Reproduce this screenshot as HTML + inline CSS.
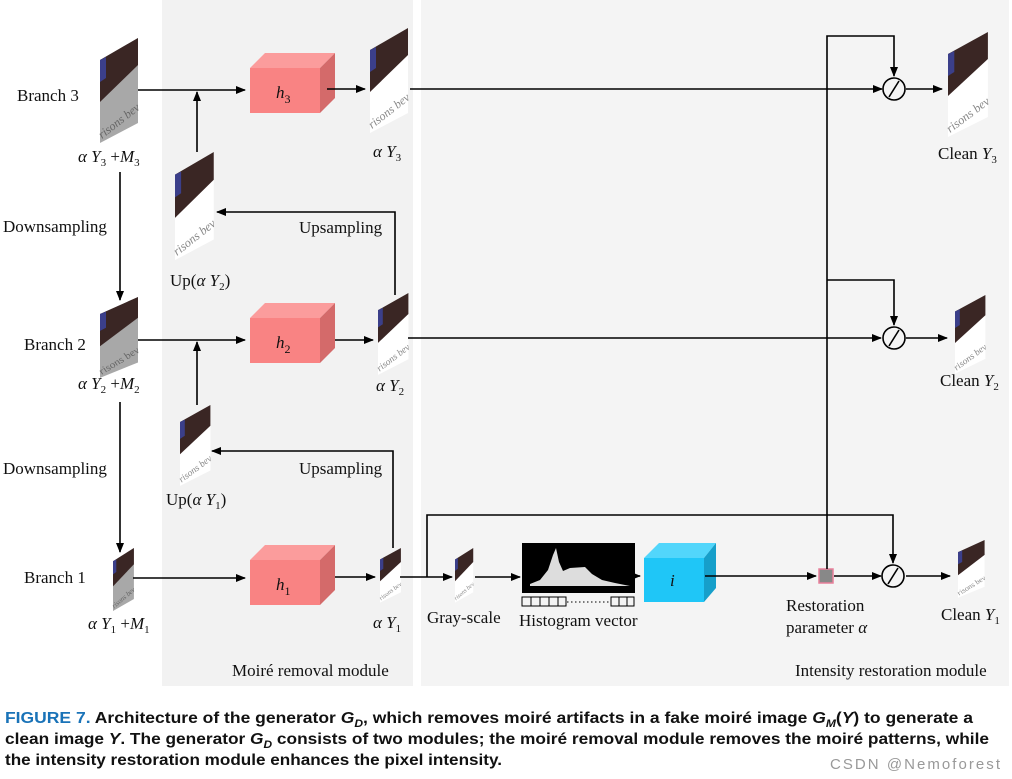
<!DOCTYPE html>
<html><head><meta charset="utf-8"><style>
html,body{margin:0;padding:0;background:#fff;}
svg{display:block}
.t{font-family:"Liberation Serif",serif;font-size:17px;fill:#111}
.c{font-family:"Liberation Sans",sans-serif;font-weight:bold;font-size:16px;fill:#111}
</style></head><body>
<svg width="1012" height="779" viewBox="0 0 1012 779" xmlns="http://www.w3.org/2000/svg">
<defs>
<marker id="a" markerWidth="10" markerHeight="8" refX="9" refY="4" orient="auto" markerUnits="userSpaceOnUse"><path d="M0,0 L10,4 L0,8 z" fill="#000"/></marker>
<g id="img">
<polygon points="0,22 38,0 38,85 0,105" fill="#fff"/>
<polygon points="0,22 38,0 38,27 0,64" fill="#3a2624"/>
<polygon points="0,22 6,19 6,40 0,44" fill="#3b3f8a"/>
<text x="2" y="101" transform="rotate(-38 2 101)" font-family="Liberation Serif" font-style="italic" font-size="12" fill="#888">risons bev</text>
</g>
<g id="imgg">
<polygon points="0,22 38,0 38,85 0,105" fill="#a8a8a8"/>
<polygon points="0,22 38,0 38,27 0,64" fill="#3a2624"/>
<polygon points="0,22 6,19 6,40 0,44" fill="#3b3f8a"/>
<text x="2" y="101" transform="rotate(-38 2 101)" font-family="Liberation Serif" font-style="italic" font-size="12" fill="#666">risons bev</text>
</g>
<g id="box">
<polygon points="0,15 15,0 85,0 70,15" fill="#fb9c9c"/>
<polygon points="70,15 85,0 85,45 70,60" fill="#d46a6a"/>
<rect x="0" y="15" width="70" height="45" fill="#f98383"/>
</g>
</defs>
<rect x="162" y="0" width="251" height="686" fill="#f2f2f2"/>
<rect x="421" y="0" width="588" height="686" fill="#f4f4f4"/>

<use href="#imgg" transform="translate(100,38)"/>
<use href="#img" transform="translate(370,28)"/>
<use href="#img" transform="translate(175,152) scale(1.02,1.03)"/>
<use href="#imgg" transform="translate(100,297) scale(1,0.77)"/>
<use href="#img" transform="translate(378,293) scale(0.8,0.78)"/>
<use href="#img" transform="translate(180,405) scale(0.8,0.77)"/>
<use href="#imgg" transform="translate(113,548) scale(0.55,0.6)"/>
<use href="#img" transform="translate(380,548) scale(0.55,0.52)"/>
<use href="#img" transform="translate(455,548) scale(0.48,0.52)"/>
<use href="#img" transform="translate(948,32) scale(1.05,1.0)"/>
<use href="#img" transform="translate(955,295) scale(0.8,0.75)"/>
<use href="#img" transform="translate(958,540) scale(0.7,0.55)"/>

<use href="#box" transform="translate(250,53)"/>
<use href="#box" transform="translate(250,303)"/>
<use href="#box" transform="translate(250,545)"/>
<g transform="translate(644,543)">
<polygon points="0,15 15,0 72,0 60,15" fill="#52d6fb"/>
<polygon points="60,15 72,0 72,45 60,59" fill="#169fca"/>
<rect x="0" y="15" width="60" height="44" fill="#1fc6f7"/>
</g>
<text class="t" x="276" y="98" font-style="italic" font-size="20">h<tspan font-size="12" dy="5" font-style="normal">3</tspan></text>
<text class="t" x="276" y="348" font-style="italic" font-size="20">h<tspan font-size="12" dy="5" font-style="normal">2</tspan></text>
<text class="t" x="276" y="590" font-style="italic" font-size="20">h<tspan font-size="12" dy="5" font-style="normal">1</tspan></text>
<text class="t" x="670" y="586" font-style="italic" font-size="20">i</text>

<rect x="522" y="543" width="113" height="50" fill="#000"/>
<polygon points="530,584 540,580 548,570 553,555 556,548 559,562 563,571 570,568 585,567 592,574 602,580 615,583 625,585 630,586 530,586" fill="#ddd"/>
<g fill="none" stroke="#000" stroke-width="1">
<rect x="522" y="597" width="44" height="9"/><line x1="531" y1="597" x2="531" y2="606"/><line x1="540" y1="597" x2="540" y2="606"/><line x1="549" y1="597" x2="549" y2="606"/><line x1="558" y1="597" x2="558" y2="606"/>
<rect x="611" y="597" width="23" height="9"/><line x1="619" y1="597" x2="619" y2="606"/><line x1="627" y1="597" x2="627" y2="606"/>
<line x1="567" y1="602" x2="610" y2="602" stroke-dasharray="1.5 2.5"/>
</g>
<rect x="819" y="569" width="14" height="14" fill="#888" stroke="#e87f9a" stroke-width="1.5"/>

<g stroke="#000" stroke-width="1.6" fill="none">
<line x1="138" y1="90" x2="245" y2="90" marker-end="url(#a)"/>
<line x1="197" y1="152" x2="197" y2="92" marker-end="url(#a)"/>
<line x1="327" y1="89" x2="365" y2="89" marker-end="url(#a)"/>
<line x1="410" y1="89" x2="882" y2="89" marker-end="url(#a)"/>
<line x1="906" y1="89" x2="942" y2="89" marker-end="url(#a)"/>
<line x1="120" y1="172" x2="120" y2="300" marker-end="url(#a)"/>
<polyline points="395,295 395,212 217,212" marker-end="url(#a)"/>
<line x1="138" y1="340" x2="245" y2="340" marker-end="url(#a)"/>
<line x1="197" y1="405" x2="197" y2="342" marker-end="url(#a)"/>
<line x1="335" y1="340" x2="373" y2="340" marker-end="url(#a)"/>
<line x1="408" y1="338" x2="881" y2="338" marker-end="url(#a)"/>
<line x1="906" y1="338" x2="947" y2="338" marker-end="url(#a)"/>
<line x1="120" y1="402" x2="120" y2="552" marker-end="url(#a)"/>
<polyline points="393,548 393,451 212,451" marker-end="url(#a)"/>
<line x1="133" y1="578" x2="245" y2="578" marker-end="url(#a)"/>
<line x1="335" y1="577" x2="375" y2="577" marker-end="url(#a)"/>
<line x1="400" y1="577" x2="452" y2="577" marker-end="url(#a)"/>
<line x1="475" y1="577" x2="520" y2="577" marker-end="url(#a)"/>
<line x1="635" y1="576" x2="640" y2="576" marker-end="url(#a)"/>
<line x1="705" y1="576" x2="816" y2="576" marker-end="url(#a)"/>
<line x1="834" y1="576" x2="881" y2="576" marker-end="url(#a)"/>
<line x1="906" y1="576" x2="950" y2="576" marker-end="url(#a)"/>
<polyline points="427,577 427,515 893,515 893,563" marker-end="url(#a)"/>
<polyline points="827,569 827,36 894,36 894,76" marker-end="url(#a)"/>
<polyline points="827,280 894,280 894,325" marker-end="url(#a)"/>
<circle cx="894" cy="89" r="11"/><line x1="889" y1="97" x2="899" y2="81"/>
<circle cx="894" cy="338" r="11"/><line x1="889" y1="346" x2="899" y2="330"/>
<circle cx="893" cy="576" r="11"/><line x1="888" y1="584" x2="898" y2="568"/>
</g>

<text class="t" x="17" y="101">Branch 3</text>
<text class="t" x="24" y="350">Branch 2</text>
<text class="t" x="24" y="583">Branch 1</text>
<text class="t" x="3" y="232">Downsampling</text>
<text class="t" x="3" y="474">Downsampling</text>
<text class="t" x="299" y="233">Upsampling</text>
<text class="t" x="299" y="474">Upsampling</text>
<text class="t" x="78" y="162"><tspan font-style="italic">α Y</tspan><tspan font-size="11" dy="4">3</tspan><tspan dy="-4"> +</tspan><tspan font-style="italic">M</tspan><tspan font-size="11" dy="4">3</tspan></text>
<text class="t" x="78" y="389"><tspan font-style="italic">α Y</tspan><tspan font-size="11" dy="4">2</tspan><tspan dy="-4"> +</tspan><tspan font-style="italic">M</tspan><tspan font-size="11" dy="4">2</tspan></text>
<text class="t" x="88" y="629"><tspan font-style="italic">α Y</tspan><tspan font-size="11" dy="4">1</tspan><tspan dy="-4"> +</tspan><tspan font-style="italic">M</tspan><tspan font-size="11" dy="4">1</tspan></text>
<text class="t" x="373" y="157"><tspan font-style="italic">α Y</tspan><tspan font-size="11" dy="4">3</tspan></text>
<text class="t" x="376" y="391"><tspan font-style="italic">α Y</tspan><tspan font-size="11" dy="4">2</tspan></text>
<text class="t" x="373" y="628"><tspan font-style="italic">α Y</tspan><tspan font-size="11" dy="4">1</tspan></text>
<text class="t" x="170" y="286">Up(<tspan font-style="italic">α Y</tspan><tspan font-size="11" dy="4">2</tspan><tspan dy="-4">)</tspan></text>
<text class="t" x="166" y="505">Up(<tspan font-style="italic">α Y</tspan><tspan font-size="11" dy="4">1</tspan><tspan dy="-4">)</tspan></text>
<text class="t" x="938" y="159">Clean <tspan font-style="italic">Y</tspan><tspan font-size="11" dy="4">3</tspan></text>
<text class="t" x="940" y="386">Clean <tspan font-style="italic">Y</tspan><tspan font-size="11" dy="4">2</tspan></text>
<text class="t" x="941" y="620">Clean <tspan font-style="italic">Y</tspan><tspan font-size="11" dy="4">1</tspan></text>
<text class="t" x="427" y="623">Gray-scale</text>
<text class="t" x="519" y="626">Histogram vector</text>
<text class="t" x="786" y="611">Restoration</text>
<text class="t" x="786" y="633">parameter <tspan font-style="italic">α</tspan></text>
<text class="t" x="232" y="676">Moiré removal module</text>
<text class="t" x="795" y="676">Intensity restoration module</text>

<text class="c" x="5" y="723" textLength="968" lengthAdjust="spacingAndGlyphs"><tspan fill="#1a73b8">FIGURE 7.</tspan>  Architecture of the generator <tspan font-style="italic">G<tspan font-size="11" dy="4">D</tspan></tspan><tspan dy="-4">, which removes moiré artifacts in a fake moiré image </tspan><tspan font-style="italic">G<tspan font-size="11" dy="4">M</tspan></tspan><tspan dy="-4">(</tspan><tspan font-style="italic">Y</tspan>) to generate a</text>
<text class="c" x="5" y="744" textLength="984" lengthAdjust="spacingAndGlyphs">clean image <tspan font-style="italic">Y</tspan>. The generator <tspan font-style="italic">G<tspan font-size="11" dy="4">D</tspan></tspan><tspan dy="-4"> consists of two modules; the moiré removal module removes the moiré patterns, while</tspan></text>
<text class="c" x="5" y="765" textLength="497" lengthAdjust="spacingAndGlyphs">the intensity restoration module enhances the pixel intensity.</text>
<text x="830" y="769" font-family="Liberation Sans,sans-serif" font-size="15" fill="#999" textLength="170">CSDN @Nemoforest</text>
</svg>
</body></html>
